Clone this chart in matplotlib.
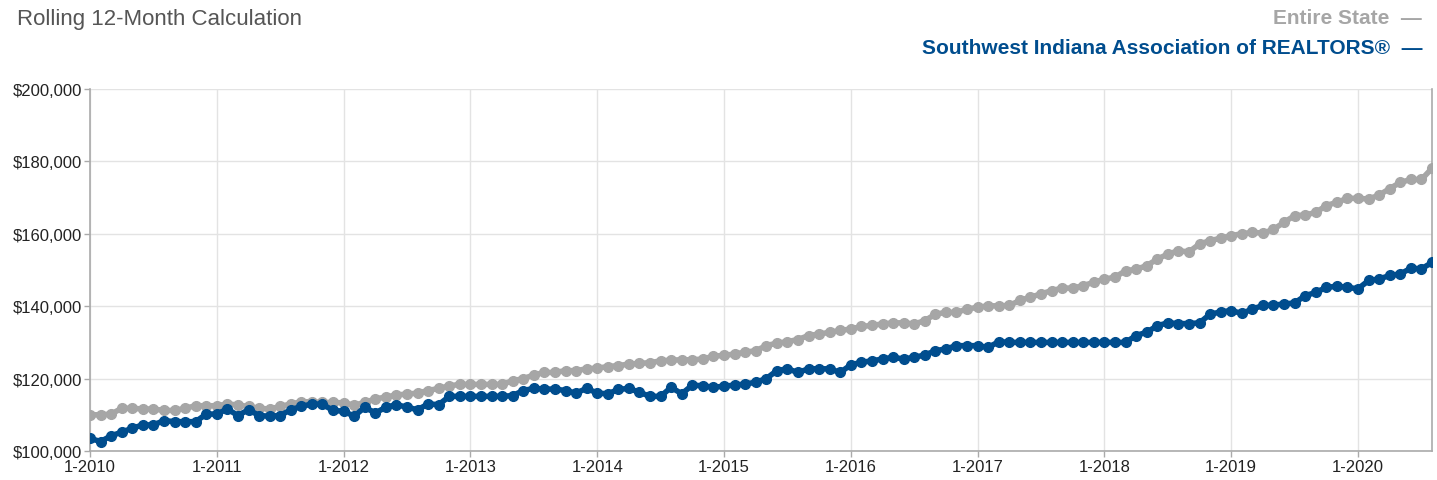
import matplotlib
matplotlib.use('Agg')
import numpy as np
from matplotlib import pyplot as plt

# rolling 12-month median price, thousands of dollars, monthly from 1-2010 to 8-2020
state = [
    110.0, 110.0, 110.2, 111.8, 111.8, 111.6, 111.6, 111.2, 111.2, 111.8, 112.5, 112.5,  # 2010
    112.5, 113.0, 112.7, 112.3, 111.8, 111.6, 112.3, 113.0, 113.6, 113.6, 113.4, 113.4,  # 2011
    113.3, 112.7, 113.4, 114.4, 114.9, 115.5, 115.7, 116.0, 116.7, 117.3, 118.0, 118.4,  # 2012
    118.4, 118.4, 118.4, 118.4, 119.4, 120.0, 121.0, 121.7, 121.7, 122.2, 122.2, 122.7,  # 2013
    122.9, 123.3, 123.6, 124.0, 124.2, 124.4, 124.9, 125.1, 125.2, 125.2, 125.4, 126.2,  # 2014
    126.4, 126.8, 127.3, 127.7, 129.1, 129.8, 130.2, 130.8, 131.9, 132.3, 132.8, 133.3,  # 2015
    133.7, 134.4, 134.7, 135.1, 135.4, 135.4, 135.1, 136.0, 137.8, 138.3, 138.3, 139.2,  # 2016
    139.7, 140.1, 140.1, 140.2, 141.6, 142.5, 143.4, 144.3, 145.0, 145.0, 145.7, 146.6,  # 2017
    147.5, 148.0, 149.8, 150.2, 151.2, 153.0, 154.4, 155.3, 155.0, 157.2, 158.1, 158.8,  # 2018
    159.5, 160.0, 160.4, 160.2, 161.2, 163.2, 165.0, 165.2, 165.9, 167.8, 168.7, 169.8,  # 2019
    169.8, 169.6, 170.7, 172.5, 174.2, 175.0, 175.0, 178.1,                              # 2020
]
swi = [
    103.5, 102.6, 104.2, 105.2, 106.3, 107.2, 107.2, 108.4, 108.1, 108.1, 108.1, 110.2,  # 2010
    110.2, 111.6, 109.8, 111.4, 109.8, 109.6, 109.8, 111.4, 112.3, 113.0, 112.9, 111.2,  # 2011
    111.0, 109.6, 112.1, 110.5, 112.1, 112.8, 112.1, 111.4, 113.0, 112.8, 115.1, 115.1,  # 2012
    115.1, 115.1, 115.1, 115.1, 115.3, 116.7, 117.3, 117.1, 117.1, 116.7, 116.0, 117.3,  # 2013
    116.0, 115.8, 117.0, 117.3, 116.2, 115.1, 115.1, 117.6, 115.8, 118.2, 118.0, 117.6,  # 2014
    117.9, 118.2, 118.5, 119.0, 120.0, 122.2, 122.7, 121.7, 122.7, 122.7, 122.7, 121.7,  # 2015
    123.8, 124.5, 124.9, 125.4, 125.9, 125.4, 125.9, 126.5, 127.7, 128.2, 129.1, 129.1,  # 2016
    129.1, 128.6, 130.2, 130.0, 130.0, 130.0, 130.0, 130.0, 130.0, 130.0, 130.0, 130.0,  # 2017
    130.0, 130.0, 130.0, 131.9, 132.8, 134.6, 135.4, 135.2, 135.2, 135.4, 137.8, 138.4,  # 2018
    138.8, 138.0, 139.2, 140.2, 140.3, 140.6, 140.9, 142.9, 143.8, 145.2, 145.5, 145.2,  # 2019
    144.8, 147.1, 147.5, 148.5, 148.9, 150.5, 150.3, 152.1,                              # 2020
]
years = list(range(2010, 2021))
tick_labels = ["1-%d" % y for y in years]
y_ticks = [100000, 120000, 140000, 160000, 180000, 200000]

title = "Rolling 12-Month Calculation"
name_state = "Entire State"
name_swi = "Southwest Indiana Association of REALTORS®"

GRAY = '#a6a6a6'
BLUE = '#004d8e'
FONT = ['Liberation Sans', 'DejaVu Sans']


def main():
    x = np.arange(len(state))
    fig = plt.figure(figsize=(14.37, 4.81), dpi=100)
    ax = fig.add_axes([90 / 1437, 29 / 481, 1342 / 1437, 362 / 481])

    ax.plot(x, np.array(state) * 1000, color=GRAY, lw=4, marker='o', ms=7,
            solid_joinstyle='round', zorder=3)
    ax.plot(x, np.array(swi) * 1000, color=BLUE, lw=4, marker='o', ms=7,
            solid_joinstyle='round', zorder=4)

    ax.set_xlim(0, len(state) - 1)
    ax.set_ylim(100000, 200000)
    ax.set_xticks([12 * i for i in range(len(years))])
    ax.set_xticklabels(tick_labels, family=FONT, fontsize=12)
    ax.set_yticks(y_ticks)
    ax.set_yticklabels(["${:,}".format(v) for v in y_ticks], family=FONT, fontsize=12)

    ax.grid(True, color='#e3e3e3', lw=1)
    ax.set_axisbelow(True)
    for side in ['left', 'bottom', 'right']:
        ax.spines[side].set_color('#aaaaaa')
        ax.spines[side].set_linewidth(1.2)
    ax.spines['top'].set_visible(False)
    ax.tick_params(axis='both', colors='#aaaaaa', labelcolor='#222222',
                   length=4, width=1, pad=2)

    fig.text(17 / 1437, 1 - 19 / 481, title, fontsize=16, color='#555555',
             family=FONT, va='center', ha='left')
    fig.text(1 - 15 / 1437, 1 - 18 / 481, name_state + "  \u2014", fontsize=15,
             fontweight='bold', color=GRAY, family=FONT, va='center', ha='right')
    fig.text(1 - 15 / 1437, 1 - 48 / 481, name_swi + "  \u2014", fontsize=15,
             fontweight='bold', color=BLUE, family=FONT, va='center', ha='right')

    fig.savefig('out.png', dpi=100)


if __name__ == "__main__":
    main()
